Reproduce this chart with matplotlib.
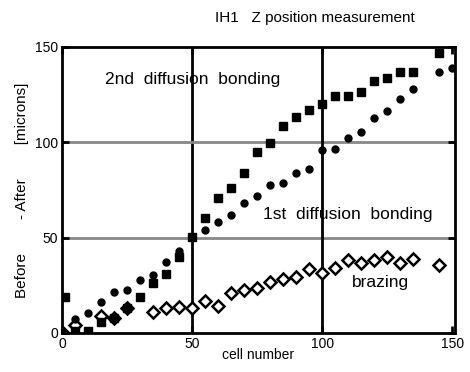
#!/usr/bin/env python3
"""
IH1 Z position measurement: before - after shift per cell.
"""

import matplotlib
matplotlib.use("Agg")
import matplotlib.pyplot as plt

plt.rcParams['font.family'] = ['Liberation Sans', 'DejaVu Sans']

# 2nd diffusion bonding (filled squares)
sq_cell = [1, 5, 10, 15, 20, 25, 30, 35, 40, 45, 50, 55, 60, 65, 70, 75, 80,
           85, 90, 95, 100, 105, 110, 115, 120, 125, 130, 135, 145]
sq_shift = [18.9, 0.8, 0.8, 5.8, 7.9, 13.1, 18.9, 26.2, 30.9, 39.9, 50.3, 60.3,
            70.8, 76.0, 83.9, 94.9, 99.6, 108.5, 113.3, 116.9, 120.1, 124.3,
            124.3, 126.4, 132.1, 133.7, 136.9, 136.9, 146.8]

# 1st diffusion bonding (filled circles)
ci_cell = [0, 5, 10, 15, 20, 25, 30, 35, 40, 45, 50, 55, 60, 65, 70, 75, 80,
           85, 90, 95, 100, 105, 110, 115, 120, 125, 130, 135, 145, 150]
ci_shift = [0.5, 7.3, 10.5, 16.3, 21.5, 22.5, 27.8, 30.4, 37.2, 43.0, 50.3,
            54.0, 58.2, 61.9, 68.2, 71.8, 77.6, 78.7, 83.9, 86.0, 96.0, 96.5,
            102.3, 105.4, 112.7, 116.4, 122.7, 127.9, 136.9, 139.0]

# brazing (open diamonds)
di_cell = [0, 5, 15, 20, 25, 35, 40, 45, 50, 55, 60, 65, 70, 75, 80, 85, 90,
           95, 100, 105, 110, 115, 120, 125, 130, 135, 145]
di_shift = [0.5, 4.2, 8.9, 7.9, 13.1, 11.0, 13.1, 13.6, 13.1, 16.8, 14.2,
            21.0, 22.5, 23.6, 26.7, 28.3, 29.4, 33.6, 31.5, 34.1, 38.3, 36.7,
            38.3, 39.9, 36.7, 38.8, 35.7]

ticks = [0, 50, 100, 150]

fig = plt.figure(figsize=(4.7, 3.72), dpi=100)
ax = fig.add_axes([0.132, 0.105, 0.836, 0.769])

# grid: gray horizontals, black verticals
for v in [50, 100]:
    ax.axhline(v, color='#888888', lw=2, zorder=1)
    ax.axvline(v, color='black', lw=2, zorder=1)

ax.plot(di_cell, di_shift, 'D', ms=6, mfc='white', mec='black', mew=1.8,
        zorder=3)
ax.plot(sq_cell, sq_shift, 's', ms=6, color='black', zorder=4)
ax.plot(ci_cell, ci_shift, 'o', ms=5, color='black', zorder=5)

ax.text(16.5, 132.7, "2nd  diffusion  bonding", fontsize=12.5, ha='left', va='center')
ax.text(77.3, 61.9, "1st  diffusion  bonding", fontsize=12.5, ha='left', va='center')
ax.text(111.5, 26.2, "brazing", fontsize=12.5, ha='left', va='center')

ax.set_xlim(0, 151)
ax.set_ylim(0, 150)
ax.set_xticks(ticks)
ax.set_yticks(ticks)
ax.tick_params(direction='in', length=5, width=2, labelsize=10,
               right=True, top=True, pad=3)
for s in ax.spines.values():
    s.set_linewidth(2)

ax.set_xlabel("cell number", fontsize=10, labelpad=-2)
ax.set_ylabel("Before        - After        [microns]", fontsize=11, labelpad=4)
fig.text(315 / 470, 1 - 18 / 372, "IH1   Z position measurement",
         fontsize=11, ha='center', va='center')

fig.savefig("out.png", dpi=100)
